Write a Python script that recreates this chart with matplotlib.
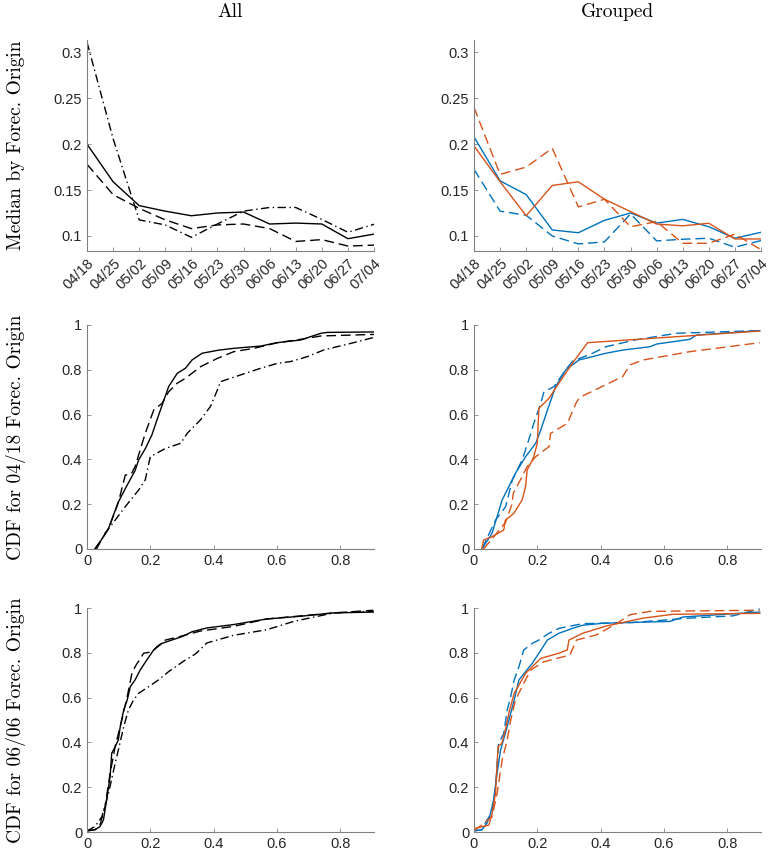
import numpy as np
import matplotlib
matplotlib.use("Agg")
import matplotlib.pyplot as plt

plt.rcParams["font.family"] = ["Liberation Sans", "DejaVu Sans"]
plt.rcParams["font.size"] = 10.5
plt.rcParams["axes.unicode_minus"] = False

# -----------------------------
# data: medians by forecast origin
# -----------------------------
dates = ["04/18", "04/25", "05/02", "05/09", "05/16", "05/23",
         "05/30", "06/06", "06/13", "06/20", "06/27", "07/04"]

med_all_solid = [0.200, 0.159, 0.133, 0.127, 0.122, 0.125, 0.126, 0.113, 0.114, 0.113, 0.097, 0.102]
med_all_dash = [0.178, 0.145, 0.130, 0.1175, 0.108, 0.112, 0.113, 0.108, 0.094, 0.096, 0.089, 0.090]
med_all_dashdot = [0.311, 0.206, 0.1175, 0.112, 0.0985, 0.113, 0.127, 0.131, 0.131, 0.118, 0.104, 0.1127]

med_blue_solid = [0.208, 0.160, 0.145, 0.1065, 0.1035, 0.117, 0.125, 0.114, 0.118, 0.110, 0.0975, 0.104]
med_blue_dash = [0.1725, 0.127, 0.1225, 0.100, 0.0913, 0.0935, 0.124, 0.0946, 0.0964, 0.0975, 0.0877, 0.095]
med_orange_solid = [0.198, 0.159, 0.122, 0.155, 0.159, 0.140, 0.1265, 0.113, 0.111, 0.1138, 0.0967, 0.0967]
med_orange_dash = [0.240, 0.167, 0.175, 0.1955, 0.1316, 0.140, 0.110, 0.1156, 0.092, 0.092, 0.102, 0.085]

# -----------------------------
# data: CDF for 04/18 origin
# -----------------------------
c1_all_solid_x = [0.025, 0.045, 0.068, 0.0995, 0.125, 0.152, 0.163, 0.185, 0.205, 0.221, 0.258, 0.285, 0.311, 0.332, 0.364, 0.417, 0.465, 0.549, 0.60, 0.675, 0.739, 0.76, 0.908]
c1_all_solid_y = [0.0, 0.04, 0.092, 0.211, 0.28, 0.35, 0.397, 0.45, 0.509, 0.576, 0.725, 0.784, 0.807, 0.844, 0.874, 0.888, 0.896, 0.906, 0.921, 0.933, 0.963, 0.967, 0.969]
c1_all_dash_x = [0.025, 0.045, 0.068, 0.0995, 0.121, 0.14, 0.152, 0.168, 0.184, 0.211, 0.237, 0.258, 0.285, 0.311, 0.359, 0.412, 0.464, 0.528, 0.602, 0.675, 0.739, 0.908]
c1_all_dash_y = [0.0, 0.04, 0.09, 0.21, 0.33, 0.335, 0.368, 0.442, 0.516, 0.621, 0.65, 0.702, 0.74, 0.762, 0.814, 0.851, 0.881, 0.896, 0.921, 0.936, 0.951, 0.958]
c1_all_dd_x = [0.03, 0.057, 0.089, 0.121, 0.163, 0.184, 0.2, 0.248, 0.296, 0.317, 0.359, 0.39, 0.412, 0.422, 0.464, 0.549, 0.602, 0.644, 0.697, 0.749, 0.834, 0.908]
c1_all_dd_y = [0.0, 0.07, 0.129, 0.189, 0.263, 0.308, 0.412, 0.449, 0.472, 0.517, 0.577, 0.636, 0.71, 0.747, 0.767, 0.807, 0.829, 0.837, 0.859, 0.889, 0.918, 0.945]

c1_blue_solid_x = [0.025, 0.057, 0.089, 0.11, 0.131, 0.163, 0.195, 0.211, 0.232, 0.258, 0.29, 0.332, 0.375, 0.417, 0.47, 0.556, 0.577, 0.682, 0.703, 0.903]
c1_blue_solid_y = [0.0, 0.07, 0.219, 0.278, 0.338, 0.412, 0.472, 0.531, 0.62, 0.725, 0.80, 0.844, 0.859, 0.874, 0.888, 0.903, 0.915, 0.936, 0.955, 0.975]
c1_blue_dash_x = [0.025, 0.068, 0.10, 0.121, 0.152, 0.173, 0.189, 0.211, 0.221, 0.253, 0.29, 0.311, 0.375, 0.417, 0.508, 0.64, 0.903]
c1_blue_dash_y = [0.0, 0.129, 0.189, 0.308, 0.397, 0.487, 0.561, 0.65, 0.702, 0.725, 0.80, 0.838, 0.874, 0.903, 0.933, 0.963, 0.975]
c1_orange_solid_x = [0.025, 0.03, 0.057, 0.094, 0.099, 0.126, 0.152, 0.163, 0.168, 0.179, 0.189, 0.20, 0.205, 0.237, 0.268, 0.311, 0.359, 0.903]
c1_orange_solid_y = [0.0, 0.04, 0.055, 0.085, 0.129, 0.159, 0.219, 0.278, 0.353, 0.382, 0.412, 0.472, 0.628, 0.673, 0.74, 0.829, 0.921, 0.973]
c1_orange_dash_x = [0.03, 0.06, 0.10, 0.12, 0.124, 0.152, 0.168, 0.195, 0.237, 0.242, 0.295, 0.322, 0.333, 0.47, 0.493, 0.535, 0.682, 0.903]
c1_orange_dash_y = [0.0, 0.05, 0.12, 0.20, 0.248, 0.323, 0.368, 0.412, 0.457, 0.516, 0.561, 0.65, 0.676, 0.77, 0.822, 0.844, 0.881, 0.921]

# -----------------------------
# data: CDF for 06/06 origin
# -----------------------------
c2_all_solid_x = [0.0, 0.025, 0.041, 0.052, 0.062, 0.073, 0.078, 0.089, 0.099, 0.105, 0.116, 0.127, 0.137, 0.152, 0.168, 0.189, 0.211, 0.237, 0.268, 0.30, 0.332, 0.379, 0.463, 0.568, 0.674, 0.779, 0.905]
c2_all_solid_y = [0.005, 0.01, 0.024, 0.054, 0.143, 0.247, 0.351, 0.381, 0.411, 0.47, 0.545, 0.589, 0.649, 0.679, 0.723, 0.768, 0.813, 0.842, 0.857, 0.872, 0.894, 0.911, 0.926, 0.951, 0.963, 0.978, 0.982]
c2_all_dash_x = [0.0, 0.025, 0.041, 0.057, 0.073, 0.089, 0.11, 0.127, 0.142, 0.152, 0.179, 0.205, 0.221, 0.248, 0.30, 0.358, 0.463, 0.568, 0.779, 0.905]
c2_all_dash_y = [0.005, 0.01, 0.031, 0.113, 0.262, 0.381, 0.50, 0.604, 0.708, 0.738, 0.798, 0.804, 0.827, 0.857, 0.875, 0.897, 0.918, 0.951, 0.978, 0.99]
c2_all_dd_x = [0.0, 0.025, 0.047, 0.068, 0.089, 0.099, 0.116, 0.131, 0.147, 0.163, 0.195, 0.226, 0.258, 0.311, 0.343, 0.379, 0.463, 0.568, 0.653, 0.779, 0.905]
c2_all_dd_y = [0.005, 0.024, 0.068, 0.173, 0.307, 0.366, 0.47, 0.545, 0.589, 0.619, 0.649, 0.679, 0.716, 0.768, 0.795, 0.844, 0.878, 0.903, 0.94, 0.978, 0.985]

c2_blue_solid_x = [0.0, 0.025, 0.041, 0.052, 0.062, 0.073, 0.084, 0.099, 0.116, 0.127, 0.142, 0.163, 0.184, 0.205, 0.232, 0.268, 0.311, 0.343, 0.408, 0.619, 0.661, 0.903]
c2_blue_solid_y = [0.005, 0.01, 0.039, 0.083, 0.143, 0.262, 0.366, 0.44, 0.53, 0.589, 0.679, 0.716, 0.753, 0.798, 0.857, 0.887, 0.909, 0.923, 0.932, 0.94, 0.96, 0.982]
c2_blue_dash_x = [0.0, 0.025, 0.041, 0.057, 0.068, 0.078, 0.094, 0.105, 0.116, 0.127, 0.142, 0.157, 0.184, 0.205, 0.237, 0.268, 0.343, 0.50, 0.682, 0.819, 0.903]
c2_blue_dash_y = [0.005, 0.01, 0.054, 0.083, 0.202, 0.396, 0.44, 0.545, 0.604, 0.679, 0.738, 0.812, 0.842, 0.857, 0.887, 0.909, 0.93, 0.935, 0.955, 0.965, 0.996]
c2_orange_solid_x = [0.0, 0.047, 0.057, 0.068, 0.076, 0.088, 0.099, 0.11, 0.127, 0.142, 0.163, 0.184, 0.211, 0.268, 0.295, 0.30, 0.343, 0.419, 0.535, 0.63, 0.903]
c2_orange_solid_y = [0.015, 0.031, 0.083, 0.173, 0.381, 0.396, 0.455, 0.53, 0.619, 0.656, 0.708, 0.738, 0.775, 0.798, 0.813, 0.857, 0.887, 0.92, 0.955, 0.972, 0.976]
c2_orange_dash_x = [0.0, 0.057, 0.073, 0.089, 0.105, 0.116, 0.131, 0.152, 0.179, 0.221, 0.303, 0.324, 0.387, 0.45, 0.493, 0.556, 0.903]
c2_orange_dash_y = [0.005, 0.068, 0.173, 0.321, 0.411, 0.50, 0.589, 0.649, 0.723, 0.76, 0.79, 0.857, 0.88, 0.93, 0.97, 0.985, 0.99]

# -----------------------------
# styles
# -----------------------------
blue = "#0072BD"
orange = "#D95319"
dash = (0, (7, 3.5))
dashdot = (0, (6, 2.5, 1, 2.5))
lw = 1.0
label_font = dict(family="cmr10", size=14)

fig = plt.figure(figsize=(7.71, 8.56), dpi=100)

W = 287 / 771
H_top = 211 / 856
H_cdf = 224 / 856
lefts = [87 / 771, 474 / 771]
bottoms = [1 - 251 / 856, 1 - 549 / 856, 1 - 832 / 856]

axes = []
for r in range(3):
    row = []
    for c in range(2):
        h = H_top if r == 0 else H_cdf
        ax = fig.add_axes([lefts[c], bottoms[r], W, h])
        for side in ["top", "right"]:
            ax.spines[side].set_visible(False)
        for side in ["left", "bottom"]:
            ax.spines[side].set_color("#808080")
            ax.spines[side].set_linewidth(0.8)
        ax.tick_params(direction="in", length=3, width=0.6, color="#808080",
                       labelcolor="#262626", labelsize=10.5)
        row.append(ax)
    axes.append(row)

# -----------------------------
# top row: medians
# -----------------------------
idx = np.arange(len(dates))

ax = axes[0][0]
ax.plot(idx, med_all_solid, color="black", lw=lw)
ax.plot(idx, med_all_dash, color="black", lw=lw, linestyle=dash)
ax.plot(idx, med_all_dashdot, color="black", lw=lw, linestyle=dashdot)

ax = axes[0][1]
ax.plot(idx, med_blue_solid, color=blue, lw=lw)
ax.plot(idx, med_blue_dash, color=blue, lw=lw, linestyle=dash)
ax.plot(idx, med_orange_solid, color=orange, lw=lw)
ax.plot(idx, med_orange_dash, color=orange, lw=lw, linestyle=dash)

for ax in axes[0]:
    ax.set_xlim(0, len(dates) - 1)
    ax.set_ylim(0.0836, 0.3134)
    ax.set_xticks(idx)
    ax.set_xticklabels(dates, rotation=45, ha="right", rotation_mode="anchor")
    ax.set_yticks([0.1, 0.15, 0.2, 0.25, 0.3])
    ax.set_yticklabels(["0.1", "0.15", "0.2", "0.25", "0.3"])

# -----------------------------
# CDF rows
# -----------------------------
ax = axes[1][0]
ax.plot(c1_all_solid_x, c1_all_solid_y, color="black", lw=lw)
ax.plot(c1_all_dash_x, c1_all_dash_y, color="black", lw=lw, linestyle=dash)
ax.plot(c1_all_dd_x, c1_all_dd_y, color="black", lw=lw, linestyle=dashdot)

ax = axes[1][1]
ax.plot(c1_blue_solid_x, c1_blue_solid_y, color=blue, lw=lw)
ax.plot(c1_blue_dash_x, c1_blue_dash_y, color=blue, lw=lw, linestyle=dash)
ax.plot(c1_orange_solid_x, c1_orange_solid_y, color=orange, lw=lw)
ax.plot(c1_orange_dash_x, c1_orange_dash_y, color=orange, lw=lw, linestyle=dash)

ax = axes[2][0]
ax.plot(c2_all_solid_x, c2_all_solid_y, color="black", lw=lw)
ax.plot(c2_all_dash_x, c2_all_dash_y, color="black", lw=lw, linestyle=dash)
ax.plot(c2_all_dd_x, c2_all_dd_y, color="black", lw=lw, linestyle=dashdot)

ax = axes[2][1]
ax.plot(c2_blue_solid_x, c2_blue_solid_y, color=blue, lw=lw)
ax.plot(c2_blue_dash_x, c2_blue_dash_y, color=blue, lw=lw, linestyle=dash)
ax.plot(c2_orange_solid_x, c2_orange_solid_y, color=orange, lw=lw)
ax.plot(c2_orange_dash_x, c2_orange_dash_y, color=orange, lw=lw, linestyle=dash)

for r in [1, 2]:
    for ax in axes[r]:
        ax.set_xlim(0, 0.907)
        ax.set_ylim(0, 1)
        ax.set_xticks([0, 0.2, 0.4, 0.6, 0.8])
        ax.set_xticklabels(["0", "0.2", "0.4", "0.6", "0.8"])
        ax.set_yticks([0, 0.2, 0.4, 0.6, 0.8, 1])
        ax.set_yticklabels(["0", "0.2", "0.4", "0.6", "0.8", "1"])

# -----------------------------
# labels and titles
# -----------------------------
ylabels = ["Median by Forec. Origin", "CDF for 04/18 Forec. Origin", "CDF for 06/06 Forec. Origin"]
for r in range(3):
    ax = axes[r][0]
    ax.set_ylabel(ylabels[r], va="center", **label_font)
    ax.yaxis.set_label_coords(-71 / 287, 0.5)

fig.text(230 / 771, 1 - 12 / 856, "All", ha="center", va="center", **label_font)
fig.text(617 / 771, 1 - 12 / 856, "Grouped", ha="center", va="center", **label_font)

plt.savefig("out.png", dpi=100)
